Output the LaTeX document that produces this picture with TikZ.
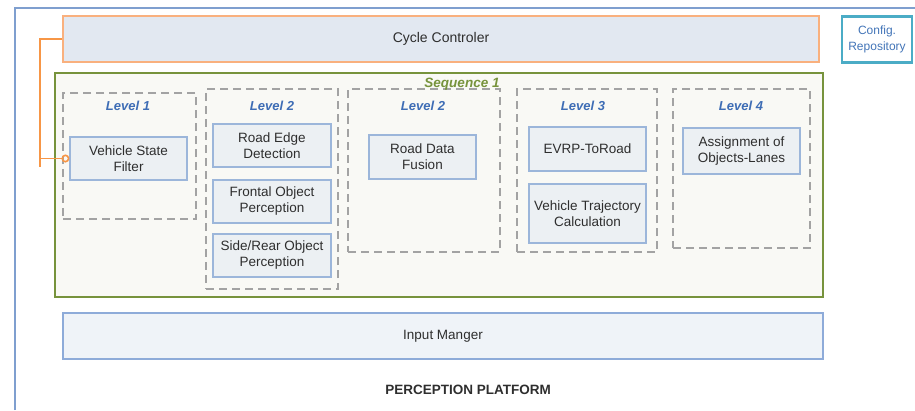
\documentclass[tikz,border=0pt]{standalone}
\usepackage{fontspec}
\setmainfont{Liberation Sans}
\usetikzlibrary{arrows.meta}
\definecolor{platformblue}{HTML}{7F9FCF}
\definecolor{ctrlorange}{HTML}{F79646}
\definecolor{ctrlborder}{HTML}{F9B07E}
\definecolor{ctrlfill}{HTML}{E2E8F1}
\definecolor{repoteal}{HTML}{4BACC6}
\definecolor{repotext}{HTML}{4375B8}
\definecolor{seqgreen}{HTML}{77933C}
\definecolor{seqfill}{HTML}{F9F9F5}
\definecolor{levelgray}{HTML}{A3A3A3}
\definecolor{leveltext}{HTML}{3E6DB5}
\definecolor{taskfill}{HTML}{ECF0F3}
\definecolor{taskborder}{HTML}{9CB6DA}
\definecolor{inputfill}{HTML}{EFF3F8}
\definecolor{inputborder}{HTML}{8EABD9}
\definecolor{textgray}{HTML}{2E2E2E}

\begin{document}
\begin{tikzpicture}[x=1pt,y=-1pt]
\tikzset{
  platform/.style={draw=platformblue,line width=2.6pt},
  ctrlbox/.style={rectangle,draw=ctrlborder,fill=ctrlfill,line width=1.6pt,text=textgray,font=\fontsize{14}{16}\selectfont},
  repobox/.style={rectangle,draw=repoteal,fill=white,line width=2.4pt,text=repotext,align=center,font=\fontsize{12}{16}\selectfont},
  seqbox/.style={rectangle,draw=seqgreen,fill=seqfill,line width=2.6pt},
  levelbox/.style={rectangle,draw=levelgray,line width=1.5pt,dash pattern=on 8pt off 5pt},
  leveltitle/.style={text=leveltext,font=\fontsize{13}{15}\selectfont\bfseries\itshape},
  taskbox/.style={rectangle,draw=taskborder,fill=taskfill,line width=1.2pt,text=textgray,align=center,inner sep=1pt,font=\fontsize{13.5}{16}\selectfont},
  inputbox/.style={rectangle,draw=inputborder,fill=inputfill,line width=1.4pt,text=textgray,font=\fontsize{13.5}{16}\selectfont},
  ctrlline/.style={draw=ctrlorange,line width=1.6pt}
}
\useasboundingbox (0,0) rectangle (915,410);
\draw[platform] (15,410) |- (915,8);
\node[ctrlbox,minimum width=756pt,minimum height=46pt] (n_cycle) at (441,39) {Cycle Controler};
\node[repobox,minimum width=70pt,minimum height=46pt] (n_config) at (877,39.5) {Config.\\Repository};
\node[seqbox,minimum width=768pt,minimum height=224pt] (n_seq) at (439,185) {};
\node[levelbox,minimum width=133pt,minimum height=126pt] (n_level_1) at (129.5,156) {};
\node[levelbox,minimum width=132pt,minimum height=200pt] (n_level_2a) at (272,189) {};
\node[levelbox,minimum width=152pt,minimum height=163pt] (n_level_2b) at (424,170.5) {};
\node[levelbox,minimum width=140pt,minimum height=163pt] (n_level_3) at (587,170.5) {};
\node[levelbox,minimum width=137pt,minimum height=159pt] (n_level_4) at (741.5,168.5) {};
\node[text=seqgreen,font=\fontsize{13.5}{15}\selectfont\bfseries\itshape] (n_seq_title) at (462,84) {Sequence 1};
\node[leveltitle] (n_title_1) at (128,106) {Level 1};
\node[leveltitle] (n_title_2a) at (272,106) {Level 2};
\node[leveltitle] (n_title_2b) at (423,106) {Level 2};
\node[leveltitle] (n_title_3) at (583,106) {Level 3};
\node[leveltitle] (n_title_4) at (741,106) {Level 4};
\node[taskbox,minimum width=117pt,minimum height=43pt] (n_vsf) at (128.5,158.5) {Vehicle State\\Filter};
\node[taskbox,minimum width=118pt,minimum height=43pt] (n_red) at (272,145.5) {Road Edge\\Detection};
\node[taskbox,minimum width=118pt,minimum height=43pt] (n_fop) at (272,201.5) {Frontal Object\\Perception};
\node[taskbox,minimum width=118pt,minimum height=43pt] (n_srp) at (272,255.5) {Side/Rear Object\\Perception};
\node[taskbox,minimum width=107pt,minimum height=44pt] (n_rdf) at (422.5,157) {Road Data\\Fusion};
\node[taskbox,minimum width=117pt,minimum height=44pt] (n_evrp) at (587.5,149) {EVRP-ToRoad};
\node[taskbox,minimum width=117pt,minimum height=59pt] (n_vtc) at (587.5,213.5) {Vehicle Trajectory\\Calculation};
\node[taskbox,minimum width=117pt,minimum height=46pt] (n_aol) at (741.5,151) {Assignment of\\Objects-Lanes};
\node[inputbox,minimum width=760pt,minimum height=46pt] (n_input) at (443,336) {Input Manger};
\node[text=textgray,font=\fontsize{13.5}{15}\selectfont\bfseries] (n_platform) at (468,390) {PERCEPTION PLATFORM};
\coordinate (c_bus_end) at (40,167);
\coordinate (c_bus_tap) at (40,158.5);
\draw[ctrlline] (n_cycle.west) -| (c_bus_end);
\draw[ctrlline,-{Circle[open,length=8pt,width=8pt]}] (c_bus_tap) -- (n_vsf.west);
\end{tikzpicture}
\end{document}
